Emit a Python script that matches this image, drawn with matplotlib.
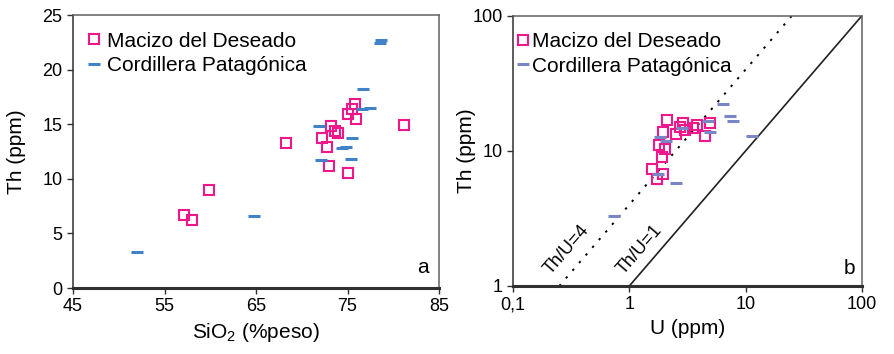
import matplotlib
matplotlib.use("Agg")
import matplotlib.pyplot as plt
import numpy as np

plt.rcParams['font.family'] = ['Liberation Sans', 'DejaVu Sans']
plt.rcParams['mathtext.default'] = 'regular'

# panel a: SiO2 vs Th
mac_sio2 = [57.1, 58.0, 59.9, 68.3, 72.2, 72.75, 73.0, 73.2, 73.6, 74.0,
            75.1, 75.05, 75.5, 75.85, 75.95, 81.2]
mac_th = [6.7, 6.2, 9.0, 13.3, 13.7, 12.9, 11.2, 14.8, 14.4, 14.2,
          10.5, 15.9, 16.4, 16.85, 15.45, 14.9]
cor_sio2 = [52.0, 64.75, 71.85, 72.1, 74.4, 74.8, 75.45, 75.4, 76.65, 76.55,
            77.5, 78.5, 78.7]
cor_th = [3.3, 6.6, 14.8, 11.7, 12.8, 12.9, 13.7, 11.8, 18.2, 16.35,
          16.5, 22.4, 22.7]

# panel b: U vs Th (log-log)
mac_u = [2.12, 1.96, 1.81, 2.03, 1.90, 1.56, 1.94, 1.72, 2.52, 2.88,
         2.73, 3.01, 3.51, 3.80, 4.48, 4.94]
mac_th_b = [16.9, 13.8, 11.0, 10.4, 9.0, 7.4, 6.7, 6.2, 13.4, 16.1,
            15.0, 14.2, 14.8, 15.5, 12.8, 16.2]
cor_u = [0.74, 2.51, 1.75, 1.84, 2.05, 2.82, 4.78, 4.94, 6.43, 7.34, 7.75, 11.3]
cor_th_b = [3.3, 5.8, 6.7, 12.7, 11.9, 14.8, 16.6, 13.8, 22.4, 18.2, 16.6, 12.8]

ratio_u = [0.25, 1.0]
ratio_u_end = [25.0, 100.0]

pink = '#f0178c'
blue_a = '#3f82c8'
blue_b = '#7a87c6'

fig = plt.figure(figsize=(8.94, 3.54), dpi=100)
ax1 = fig.add_axes([0.0817, 0.1864, 0.4094, 0.7712])
ax2 = fig.add_axes([0.5738, 0.1921, 0.3904, 0.7636])


def style_axes(ax):
    for side in ['top', 'right']:
        ax.spines[side].set_color('#606060')
        ax.spines[side].set_linewidth(1.1)
    ax.spines['left'].set_color('#303030')
    ax.spines['left'].set_linewidth(1.1)
    ax.spines['bottom'].set_color('#303030')
    ax.spines['bottom'].set_linewidth(2.2)
    ax.tick_params(direction='out', length=4, width=1.0, color='#303030',
                   labelsize=13, top=False, right=False)
    ax.tick_params(which='minor', length=0)


# ---- panel a
ax1.plot(mac_sio2, mac_th, 's', ms=6.8, mfc='none', mec=pink, mew=1.5,
         label='Macizo del Deseado')
ax1.plot(cor_sio2, cor_th, '_', ms=8, mec=blue_a, mew=2.2,
         label='Cordillera Patagónica')
ax1.set_xlim(45, 85)
ax1.set_ylim(0, 25)
ax1.set_xticks([45, 55, 65, 75, 85])
ax1.set_yticks([0, 5, 10, 15, 20, 25])
ax1.set_xlabel('SiO$_2$ (%peso)', fontsize=15)
ax1.set_ylabel('Th (ppm)', fontsize=15, labelpad=12)
style_axes(ax1)
leg1 = ax1.legend(loc='upper left', frameon=False, fontsize=15,
                  handlelength=0.8, handletextpad=0.2, labelspacing=0.25,
                  borderaxespad=0.4, bbox_to_anchor=(-0.01, 1.0))
leg1.legend_handles[1].set_color('#6f9fd8')
ax1.text(0.955, 0.075, 'a', transform=ax1.transAxes, fontsize=15,
         ha='center', va='center')

# ---- panel b
ax2.set_xscale('log')
ax2.set_yscale('log')
ax2.plot([ratio_u[0], ratio_u_end[0]], [ratio_u[0] * 4, ratio_u_end[0] * 4],
         color='black', lw=1.4, linestyle=(0, (1.2, 4)))
ax2.plot([ratio_u[1], ratio_u_end[1]], [ratio_u[1], ratio_u_end[1]],
         color='#202020', lw=1.2)
ax2.plot(mac_u, mac_th_b, 's', ms=6.8, mfc='none', mec=pink, mew=1.5,
         label='Macizo del Deseado')
ax2.plot(cor_u, cor_th_b, '_', ms=8, mec=blue_b, mew=2.2,
         label='Cordillera Patagónica')
ax2.set_xlim(0.1, 100)
ax2.set_ylim(1, 100)
ax2.set_xticks([0.1, 1, 10, 100])
ax2.set_xticklabels(['0,1', '1', '10', '100'])
ax2.set_yticks([1, 10, 100])
ax2.set_yticklabels(['1', '10', '100'])
ax2.set_xlabel('U (ppm)', fontsize=15)
ax2.set_ylabel('Th (ppm)', fontsize=15, labelpad=-3)
style_axes(ax2)
ax2.legend(loc='upper left', frameon=False, fontsize=15,
           handlelength=0.6, handletextpad=0.1, labelspacing=0.25,
           borderaxespad=0.4, bbox_to_anchor=(-0.036, 1.0))
ax2.text(0.29, 1.85, 'Th/U=4', fontsize=13, rotation=49,
         ha='center', va='center')
ax2.text(1.22, 1.85, 'Th/U=1', fontsize=13, rotation=49,
         ha='center', va='center')
ax2.text(0.965, 0.065, 'b', transform=ax2.transAxes, fontsize=15,
         ha='center', va='center')

fig.savefig('out.png', dpi=100)
